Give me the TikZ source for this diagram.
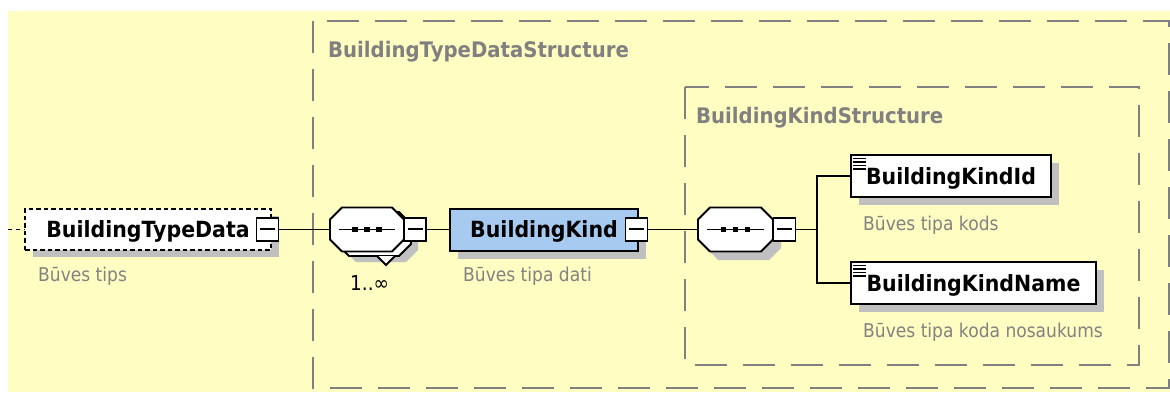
\documentclass[tikz,border=0pt]{standalone}
\usepackage{fontspec}
\setmainfont{DejaVu Sans}
\newfontfamily\regf{DejaVu Sans}[FakeStretch=0.9]
\newfontfamily\boldf{DejaVu Sans}[FakeStretch=0.92]
\usetikzlibrary{calc}
\definecolor{bgyellow}{RGB}{255,253,193}
\definecolor{shadowgray}{RGB}{192,192,192}
\definecolor{boxgray}{RGB}{128,128,128}
\definecolor{descgray}{RGB}{130,130,130}
\definecolor{kindblue}{RGB}{166,202,240}
\newcommand\octpath[5]{({#1+#5},#2) -- ({#3-#5},#2) -- (#3,{#2+#5}) -- (#3,{#4-#5}) -- ({#3-#5},#4) -- ({#1+#5},#4) -- (#1,{#4-#5}) -- (#1,{#2+#5}) -- cycle}
\newcommand\minusbox[3]{\node[minusb] (#1) at (#2,#3) {};
  \draw[line width=2pt] ($(#1.center)+(-7.5,-1)$) -- ($(#1.center)+(7.5,-1)$);}
\newcommand\seqdots[1]{%
  \draw[line width=1.6pt] ($(#1.west)+(9,0)$) -- ($(#1.east)+(-9,0)$);
  \foreach \dx in {-12,0,12} {\fill ($(#1.center)+(\dx,0)+(-2.8,-2.8)$) rectangle +(5.6,5.6);}}
\newcommand\iconlines[2]{%
  \foreach \dy in {0,3.5,7,10.5} {\draw[line width=1.4pt] (#1,{#2+\dy}) -- ({#1+13},{#2+\dy});}}
\begin{document}
\begin{tikzpicture}[x=1pt,y=-1pt,
  conn/.style={line width=1.8pt, draw=black},
  elem/.style={draw=black, line width=2pt, fill=white, inner sep=0pt,
    font={\boldf\bfseries\fontsize{22.3}{25}\selectfont}, text height=18.5pt, text depth=2pt},
  shadowc/.style={fill=shadowgray},
  grpbox/.style={draw=boxgray, line width=2pt, dash pattern=on 32pt off 16pt},
  grplabel/.style={anchor=base west, inner sep=0pt, text=boxgray,
    font={\boldf\bfseries\fontsize{21.4}{24}\selectfont}},
  desc/.style={anchor=base west, inner sep=0pt, text=descgray,
    font={\regf\fontsize{19}{22}\selectfont}},
  minusb/.style={draw=black, line width=1.8pt, fill=white, minimum width=22pt,
    minimum height=23pt, inner sep=0pt},
  seqbox/.style={inner sep=0pt, minimum width=74pt, minimum height=44pt},
  seqline/.style={draw=black, line width=1.8pt, fill=white}]
\useasboundingbox (0,0) rectangle (1170,392);
\fill[bgyellow] (8,11) rectangle (1170,392);

% group boxes
\draw[grpbox] (313,21) rectangle (1169,388);
\node[grplabel] (lblouter) at (328,57.3) {BuildingTypeDataStructure};
\draw[grpbox] (685,87) rectangle (1139,365);
\node[grplabel] (lblinner) at (696,123) {BuildingKindStructure};

% invisible anchors for sequences
\node[seqbox] (s1) at (367,229.5) {};
\node[seqbox] (s2) at (735.5,229.5) {};
\coordinate (stub) at (8,229.5);
\coordinate (br) at (817,229.5);

% shadows
\fill[shadowc] (33,216) rectangle (279,257);
\fill[shadowc] \octpath{344}{218}{418}{262}{12};
\fill[shadowc] (458,216.5) rectangle (646,258.5);
\fill[shadowc] \octpath{706}{215}{781}{260}{12};
\fill[shadowc] (859,163) rectangle (1059,205);
\fill[shadowc] (859,270) rectangle (1104,312);

% connectors
\draw[conn, dash pattern=on 4pt off 4pt] (stub) -- (27,229.5);
\draw[conn] (br) |- (860,176);
\draw[conn] (br) |- (860,283);

% element nodes
\node[elem, dash pattern=on 4.5pt off 3pt, minimum width=246pt, minimum height=41pt] (btd) at (148,229) {BuildingTypeData};
\node[elem, fill=kindblue, minimum width=188pt, minimum height=42pt] (bk) at (544,229.5) {BuildingKind};
\node[elem, minimum width=200pt, minimum height=42pt] (bkid) at (951,176) {BuildingKindId};
\node[elem, minimum width=245pt, minimum height=42pt] (bkname) at (973.5,283) {BuildingKindName};
\iconlines{853}{158.5}
\iconlines{853}{265.5}

% sequence 1 (1..inf)
\draw[seqline] \octpath{337}{212}{411}{256}{12};
\draw[seqline, line join=miter] (377,256) -- (386,265) -- (395,256);
\draw[seqline] \octpath{330}{207.5}{404}{251.5}{12};
\seqdots{s1}
% sequence 2
\draw[seqline] \octpath{698}{207.5}{773}{251.5}{12};
\seqdots{s2}

% minus boxes
\minusbox{btdm}{267.5}{229.5}
\minusbox{s1m}{415}{229.5}
\minusbox{bkm}{636.5}{229.5}
\minusbox{s2m}{784.5}{229.5}

\draw[conn] (btdm.east) -- (s1.west);
\draw[conn] (s1m.east) -- (bk.west);
\draw[conn] (bkm.east) -- (s2.west);
\draw[conn] (s2m.east) -- (br);

% descriptions
\node[desc] (d1) at (38,281.5) {Būves tips};
\node[desc, text=black, font={\regf\fontsize{20.5}{22}\selectfont}] (mult) at (350,290) {1..∞};
\node[desc] (d2) at (463,281.5) {Būves tipa dati};
\node[desc] (d3) at (863,230) {Būves tipa kods};
\node[desc] (d4) at (863,337) {Būves tipa koda nosaukums};
\end{tikzpicture}
\end{document}
